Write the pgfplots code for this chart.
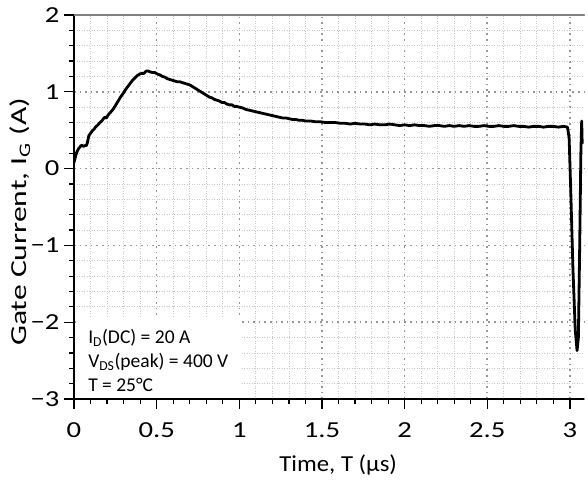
\documentclass[border=0pt]{standalone}
\usepackage{fontspec}
\setmainfont{Carlito}
\newfontfamily\tickfont{Carlito}[FakeStretch=1.25]
\newfontfamily\xlabfont{Carlito}[FakeStretch=1.08]
\newfontfamily\ylabfont{Carlito}[FakeStretch=1.38]
\usepackage{pgfplots}
\pgfplotsset{compat=1.18}
\definecolor{majgrid}{RGB}{150,150,150}
\definecolor{mingrid}{RGB}{200,200,200}
\definecolor{topline}{RGB}{128,128,128}
\begin{document}
\begin{tikzpicture}
\begin{axis}[
 scale only axis, width=510bp, height=384bp,
 xmin=0, xmax=3.085, ymin=-3, ymax=2,
 axis x line=bottom, axis y line=left,
 axis line style={-, line width=1.6bp, black},
 xtick={0,0.5,1,1.5,2,2.5,3}, xticklabels={0,0.5,1,1.5,2,2.5,3},
 ytick={-3,-2,-1,0,1,2}, yticklabels={−3,−2,−1,0,1,2},
 minor x tick num=4, minor y tick num=4,
 tick align=outside, major tick length=10bp, minor tick length=5bp,
 major tick style={black, line width=1.4bp},
 minor tick style={black, line width=1.2bp},
 grid=both,
 major grid style={majgrid, line width=1.6bp, dash pattern=on 1.6bp off 4bp},
 minor grid style={mingrid, line width=0.8bp, dash pattern=on 1bp off 1.5bp},
 tick label style={font=\tickfont\fontsize{23}{27}\selectfont},
 xticklabel style={yshift=-10bp},
 yticklabel style={xshift=-1bp},
 xlabel={Time, T (µs)}, ylabel={Gate Current, I\textsubscript{G} (A)},
 xlabel style={font=\xlabfont\fontsize{23}{27}\selectfont, at={(rel axis cs:0.518,0)}, anchor=center, yshift=-66bp},
 ylabel style={font=\ylabfont\fontsize{23}{27}\selectfont, at={(rel axis cs:0,0.461)}, anchor=center, rotate=0, yshift=54bp},
]
\coordinate (ll) at (rel axis cs:0,0);
\coordinate (ur) at (rel axis cs:1,1);
\draw[topline, line width=1.8bp] (rel axis cs:0,1) -- (rel axis cs:1,1);
\fill[white] (axis cs:0.011,-2.985) rectangle (axis cs:1.016,-1.94);
\node[anchor=north west, align=left, inner sep=0pt, font=\fontsize{19.6}{24}\selectfont] at (axis cs:0.085,-2.09)
 {I\textsubscript{D}(DC) = 20 A\\V\textsubscript{DS}(peak) = 400 V\\T = 25°C};
\addplot[black, line width=2.8bp, line join=round, line cap=round] coordinates {
(0.000,0.08) (0.006,0.13) (0.012,0.18) (0.018,0.22) (0.025,0.25) (0.031,0.27)
(0.036,0.28) (0.042,0.30) (0.050,0.30) (0.058,0.29) (0.066,0.30) (0.075,0.30)
(0.080,0.33) (0.085,0.38) (0.090,0.43) (0.100,0.46) (0.110,0.49) (0.120,0.51)
(0.130,0.54) (0.145,0.57) (0.157,0.60) (0.168,0.62) (0.178,0.65) (0.188,0.67)
(0.196,0.66) (0.204,0.69) (0.215,0.72) (0.228,0.75) (0.242,0.79) (0.256,0.84)
(0.270,0.89) (0.284,0.94) (0.298,0.98) (0.312,1.03) (0.326,1.07) (0.340,1.11)
(0.354,1.15) (0.368,1.18) (0.382,1.21) (0.396,1.23) (0.410,1.24) (0.424,1.24)
(0.436,1.27) (0.448,1.27) (0.460,1.26) (0.475,1.25) (0.490,1.25) (0.505,1.23)
(0.520,1.22) (0.535,1.20) (0.550,1.19) (0.565,1.17) (0.580,1.16) (0.595,1.15)
(0.610,1.14) (0.625,1.13) (0.640,1.13) (0.655,1.12) (0.670,1.11) (0.685,1.10)
(0.700,1.09) (0.715,1.07) (0.730,1.05) (0.745,1.03) (0.760,1.01) (0.775,0.99)
(0.790,0.97) (0.805,0.95) (0.820,0.93) (0.835,0.92) (0.850,0.90) (0.865,0.89)
(0.880,0.88) (0.895,0.86) (0.910,0.86) (0.925,0.84) (0.940,0.83) (0.955,0.83)
(0.970,0.81) (0.985,0.81) (1.000,0.80) (1.020,0.79) (1.040,0.77) (1.060,0.76)
(1.080,0.75) (1.100,0.74) (1.120,0.73) (1.140,0.72) (1.160,0.71) (1.180,0.70)
(1.200,0.69) (1.220,0.68) (1.240,0.67) (1.260,0.66) (1.280,0.66) (1.300,0.65)
(1.320,0.64) (1.340,0.64) (1.360,0.63) (1.380,0.63) (1.400,0.62) (1.430,0.62)
(1.460,0.61) (1.490,0.61) (1.520,0.60) (1.550,0.60) (1.580,0.60) (1.610,0.59)
(1.640,0.59) (1.670,0.58) (1.700,0.59) (1.730,0.58) (1.760,0.58) (1.790,0.57)
(1.820,0.58) (1.850,0.57) (1.880,0.57) (1.910,0.58) (1.940,0.57) (1.970,0.56)
(2.000,0.57) (2.030,0.56) (2.060,0.57) (2.090,0.56) (2.120,0.56) (2.150,0.55)
(2.180,0.56) (2.210,0.56) (2.240,0.55) (2.270,0.56) (2.300,0.55) (2.330,0.56)
(2.360,0.55) (2.390,0.56) (2.420,0.55) (2.450,0.55) (2.480,0.56) (2.510,0.55)
(2.540,0.55) (2.570,0.56) (2.600,0.55) (2.630,0.55) (2.660,0.56) (2.690,0.55)
(2.720,0.55) (2.750,0.54) (2.780,0.55) (2.810,0.55) (2.840,0.54) (2.870,0.55)
(2.900,0.55) (2.930,0.54) (2.960,0.55) (2.985,0.54)
(2.995,0.40) (3.005,-0.30) (3.018,-1.30) (3.032,-2.10) (3.043,-2.37)
(3.051,-2.20) (3.059,-1.00) (3.066,0.20) (3.071,0.62) (3.074,0.33)
};
\end{axis}
\path (ll) ++(-74bp,-81bp) coordinate (a);
\path (ur) ++(4bp,15bp) coordinate (b);
\pgfresetboundingbox
\path (a) rectangle (b);
\end{tikzpicture}
\end{document}
